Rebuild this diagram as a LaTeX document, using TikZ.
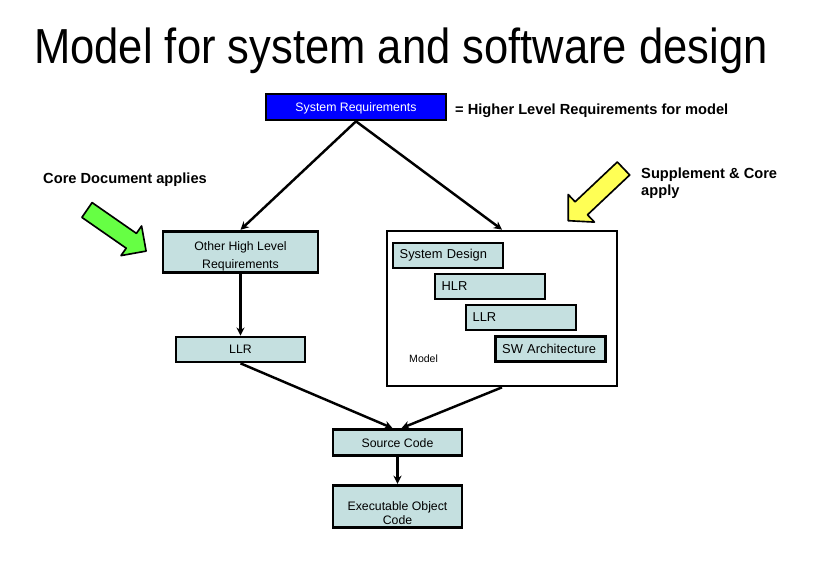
\documentclass[tikz,border=0pt]{standalone}
\usepackage{fontspec}
\setmainfont{Liberation Sans}
\newfontfamily\titlefont[FakeStretch=0.885]{Liberation Sans}
\usetikzlibrary{arrows.meta}
\definecolor{boxfill}{RGB}{197,224,224}
\definecolor{reqblue}{RGB}{0,0,255}
\definecolor{coregreen}{RGB}{102,255,68}
\definecolor{suppyellow}{RGB}{255,255,85}
\begin{document}
\begin{tikzpicture}[x=0.03cm,y=-0.03cm,
    box/.style={draw,line width=2.3pt,fill=boxfill,inner sep=0pt,align=center,
      font=\fontsize{10.5}{15.7}\selectfont},
    subbox/.style={box,minimum width=3.3cm,minimum height=0.75cm,text width=2.9cm,
      align=left,font=\fontsize{11}{13}\selectfont},
    link/.style={-{Stealth[length=7pt,width=7pt]},line width=2.1pt},
    note/.style={font=\bfseries\fontsize{12.5}{15.3}\selectfont,align=left,inner sep=0pt},
    blockarrow/.style={draw,line width=1.4pt,line join=round}]
  \useasboundingbox (0,0) rectangle (832,570);

  % title
  \node[anchor=base,font=\titlefont\fontsize{42}{50}\selectfont] (title) at (401,64)
    {Model for system and software design};

  % System Requirements and its note
  \node[box,fill=reqblue,text=white,minimum width=5.4cm,minimum height=0.78cm] (sysreq) at (356,107) {\rule{0pt}{0.33cm}System Requirements};
  \node[note,anchor=base west] (higher) at (455,115) {= Higher Level Requirements for model};

  % left branch
  \node[box,minimum width=4.65cm,minimum height=1.25cm] (ohlr) at (240.5,252) {\rule{0pt}{0.51cm}Other High Level\\Requirements};
  \node[box,minimum width=3.87cm,minimum height=0.75cm] (llr) at (240.5,349.5) {LLR};

  % right branch: the model
  \node[draw,line width=2.3pt,fill=white,minimum width=6.9cm,minimum height=4.65cm] (model) at (502,308.5) {};
  \node[subbox] (sysdes) at (448,255.5) {System Design};
  \node[subbox] (hlr) at (490,286.5) {HLR};
  \node[subbox] (mllr) at (521,317.5) {LLR};
  \node[subbox] (swarch) at (550.5,349) {SW Architecture};
  \node[anchor=base west,inner sep=0pt,font=\fontsize{9}{11}\selectfont] (modellbl) at (409,363) {Model};

  % code
  \node[box,minimum width=3.87cm,minimum height=0.78cm] (src) at (397.5,442.5) {\rule{0pt}{0.33cm}Source Code};
  \node[box,minimum width=3.87cm,minimum height=1.28cm,font=\fontsize{10.5}{12}\selectfont] (exe) at (397.5,506.5) {\rule{0pt}{0.69cm}Executable Object\\Code};

  % connectors
  \draw[link] (sysreq.south) -- (ohlr.north);
  \draw[link] (sysreq.south) -- (model.north);
  \draw[link] (ohlr.south) -- (llr.north);
  \draw[link] (llr.south) -- ([xshift=-0.15cm]src.north);
  \draw[link] (model.south) -- ([xshift=0.12cm]src.north);
  \draw[link] (src.south) -- (exe.north);

  % notes with block arrows
  \node[note,anchor=base west] (corenote) at (43,184) {Core Document applies};
  \draw[blockarrow,fill=coregreen] (81.9,217.4) -- (126.2,248.2) -- (121.0,255.6) -- (146.1,251.1)
    -- (141.6,226.0) -- (136.4,233.4) -- (92.1,202.6) -- cycle;
  \node[note,anchor=base west] (suppnote) at (641,196) {Supplement \& Core\\apply};
  \draw[blockarrow,fill=suppyellow] (617.3,162.0) -- (575.1,201.8) -- (568.2,194.5) -- (568.2,220.7)
    -- (594.4,222.1) -- (587.5,214.8) -- (629.7,175.0) -- cycle;
\end{tikzpicture}
\end{document}
